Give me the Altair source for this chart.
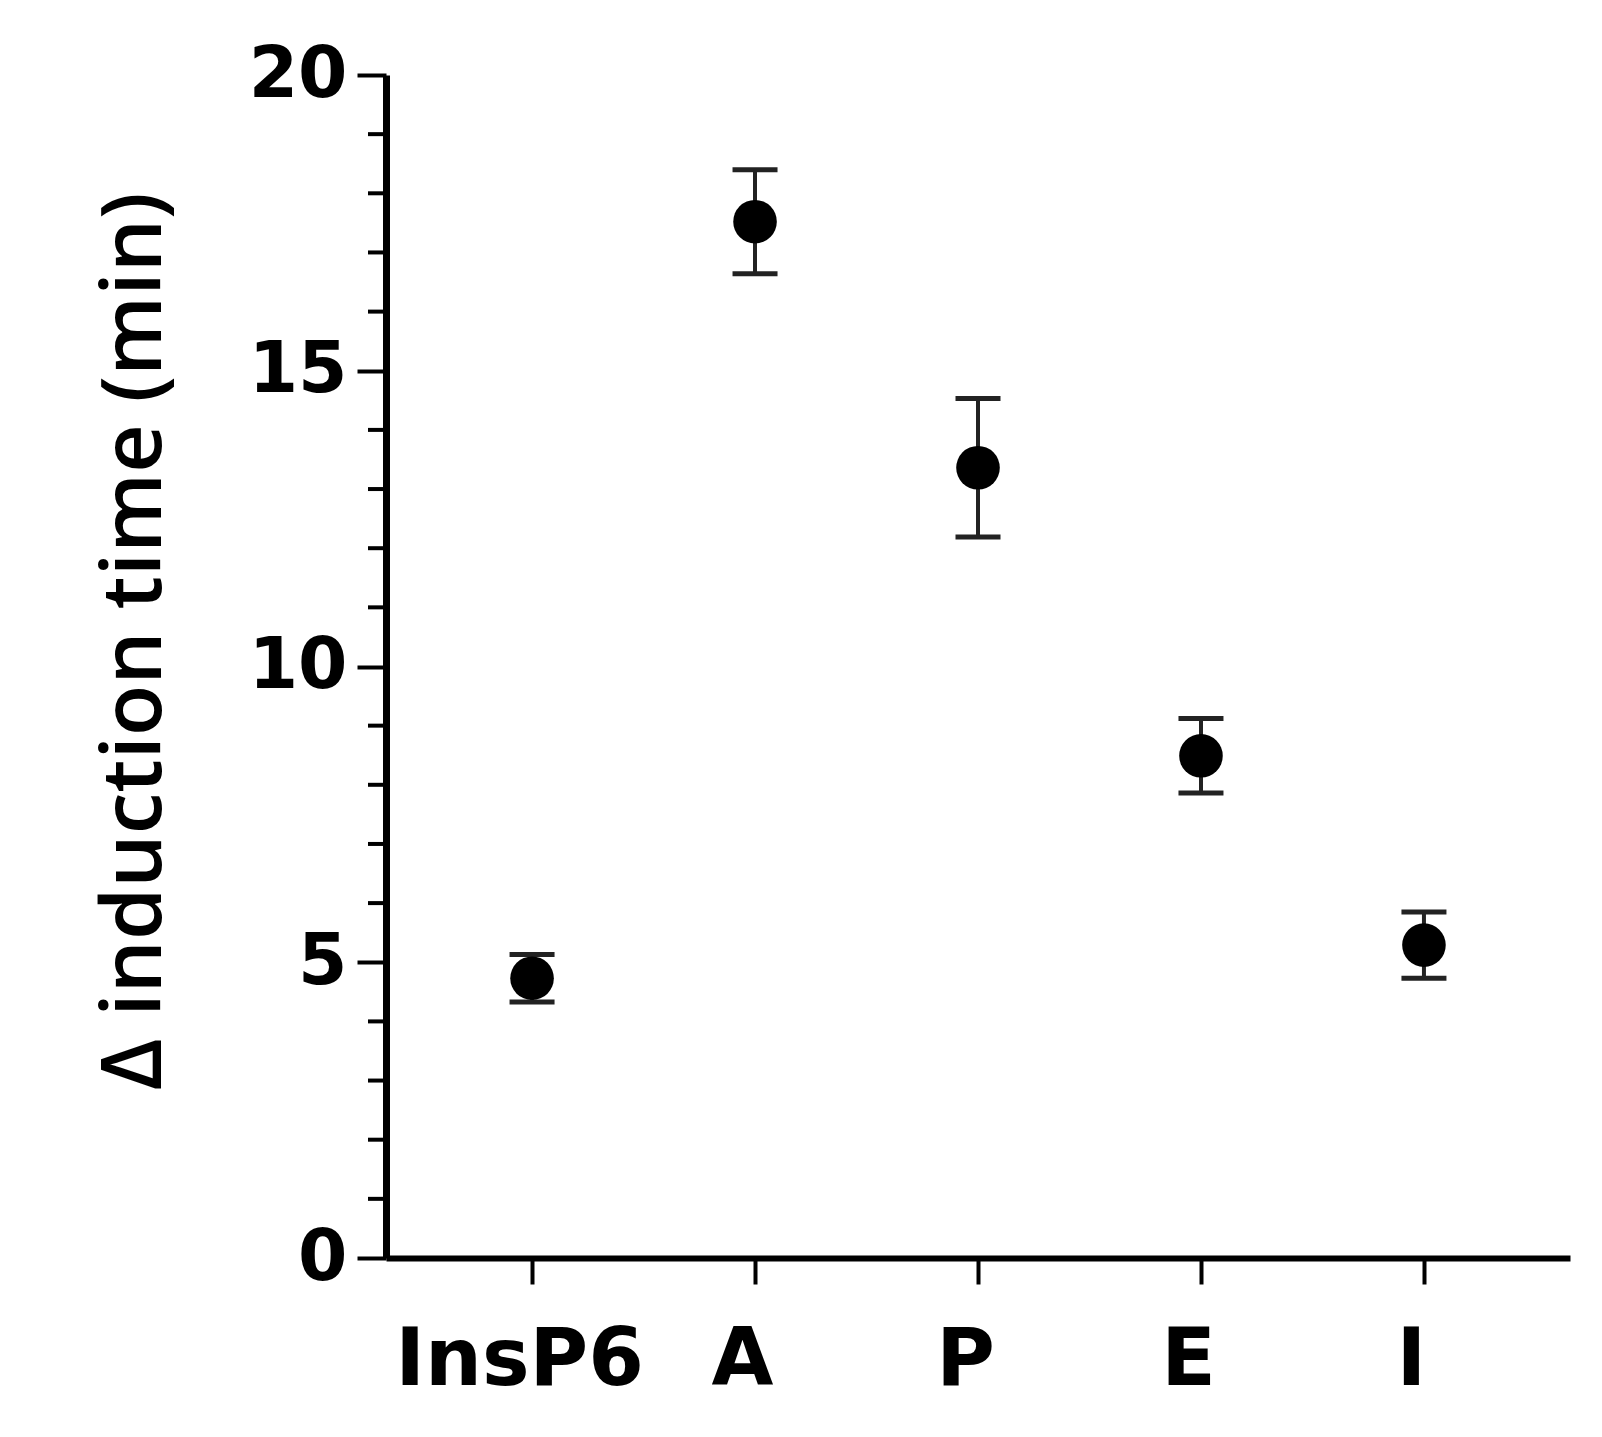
import altair as alt
import pandas as pd

categories = ["InsP6", "A", "P", "E", "I"]
means = [4.73, 17.52, 13.36, 8.49, 5.29]
errors = [0.40, 0.88, 1.17, 0.63, 0.56]
y_major_ticks = [0, 5, 10, 15, 20]
y_minor_ticks = [1, 2, 3, 4, 6, 7, 8, 9, 11, 12, 13, 14, 16, 17, 18, 19]

df = pd.DataFrame({
    "cat": categories,
    "mean": means,
    "lo": [m - e for m, e in zip(means, errors)],
    "hi": [m + e for m, e in zip(means, errors)],
})
minor_df = pd.DataFrame({"v": y_minor_ticks})

W, H = 1184, 1183

xenc = alt.X(
    "cat:N",
    sort=categories,
    scale=alt.Scale(type="point", padding=0.655),
    axis=alt.Axis(
        title=None,
        labelAngle=0,
        labelAlign="center",
        labelFlush=False,
        labelLimit=0,
        labelOffset=-13,
        labelFont="DejaVu Sans",
        labelFontWeight="bold",
        labelFontSize=80,
        labelColor="black",
        labelPadding=76,
        domainColor="black",
        domainWidth=6,
        tickColor="black",
        tickWidth=4,
        tickSize=26,
        grid=False,
    ),
)

yscale = alt.Scale(domain=[0, 20], nice=False, zero=True)

yaxis = alt.Axis(
    title="Δ induction time (min)",
    values=y_major_ticks,
    format="d",
    labelFont="DejaVu Sans",
    labelFontWeight="bold",
    labelFontSize=71,
    labelColor="black",
    labelPadding=10,
    domainColor="black",
    domainWidth=7,
    tickColor="black",
    tickWidth=4,
    tickSize=29,
    grid=False,
    titleFont="Open Sans",
    titleFontWeight=600,
    titleFontSize=84,
    titleColor="black",
    titleAngle=270,
    titleAlign="center",
    titleBaseline="alphabetic",
    titleX=-226,
    titleY=566,
)

points = alt.Chart(df).mark_point(
    filled=True, shape="circle", size=1900, color="black", opacity=1
).encode(
    x=xenc,
    y=alt.Y("mean:Q", scale=yscale, axis=yaxis),
)

rules = alt.Chart(df).mark_rule(color="#222222", strokeWidth=4, opacity=1).encode(
    x=alt.X("cat:N", sort=categories),
    y=alt.Y("lo:Q"),
    y2="hi:Q",
)

cap_lo = alt.Chart(df).mark_tick(color="#222222", size=45, thickness=5, opacity=1).encode(
    x=alt.X("cat:N", sort=categories),
    y=alt.Y("lo:Q"),
)
cap_hi = alt.Chart(df).mark_tick(color="#222222", size=45, thickness=5, opacity=1).encode(
    x=alt.X("cat:N", sort=categories),
    y=alt.Y("hi:Q"),
)

minor = alt.Chart(minor_df).mark_rule(color="black", strokeWidth=4, clip=False).encode(
    y=alt.Y("v:Q"),
    x=alt.value(-18),
    x2=alt.value(0),
)

chart = alt.layer(minor, rules, cap_lo, cap_hi, points).properties(
    width=W,
    height=H,
    autosize=alt.AutoSizeParams(type="none"),
    padding={"left": 378, "top": 67, "right": 24, "bottom": 160},
).configure(
    background="white",
    view=alt.ViewConfig(strokeWidth=0, stroke="transparent"),
)

chart.save("out.html", embed_options={"renderer": "svg", "actions": False})
